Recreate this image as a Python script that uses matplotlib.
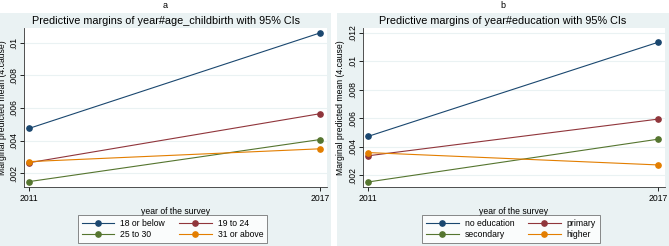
import matplotlib
matplotlib.use("Agg")
import matplotlib.pyplot as plt
from matplotlib.patches import Rectangle
from matplotlib.ticker import FuncFormatter

plt.rcParams["font.family"] = ["Liberation Sans", "DejaVu Sans"]

years = [2011, 2017]

age_labels = ["18 or below", "19 to 24", "25 to 30", "31 or above"]
age_values = [
    [0.00474, 0.01062],
    [0.00263, 0.00565],
    [0.00147, 0.00406],
    [0.00270, 0.00349],
]

edu_labels = ["no education", "primary", "secondary", "higher"]
edu_values = [
    [0.00473, 0.01135],
    [0.00337, 0.00595],
    [0.00153, 0.00454],
    [0.00360, 0.00273],
]

colors = ["#1a476f", "#90353b", "#55752f", "#e37e00"]
bg = "#eaf2f3"

W, H = 669, 246
fig = plt.figure(figsize=(W / 100, H / 100), dpi=100)
fig.patch.set_facecolor("white")

# panel backgrounds
fig.add_artist(Rectangle((0, 0), 331 / W, 1 - 13 / H, transform=fig.transFigure,
                         facecolor=bg, edgecolor="none", zorder=-10))
fig.add_artist(Rectangle((337 / W, 0), (W - 337) / W, 1 - 13 / H, transform=fig.transFigure,
                         facecolor=bg, edgecolor="none", zorder=-10))


def fmt(v, pos):
    s = ("%.3f" % v).rstrip("0")
    if s.startswith("0"):
        s = s[1:]
    return s


def panel(x0, x1, px0, px1, ylab_x, labels, values, title, letter, ylim, yticks):
    ax = fig.add_axes([x0 / W, 1 - 187 / H, (x1 - x0) / W, (187 - 28) / H])
    ax.set_facecolor("white")
    lines = []
    for lab, vals, c in zip(labels, values, colors):
        ln, = ax.plot(years, vals, color=c, lw=0.8, marker="o", ms=3.8, label=lab)
        lines.append(ln)
    ax.set_xlim(2010.9, 2017.14)
    ax.set_ylim(*ylim)
    ax.set_xticks(years)
    ax.set_yticks(yticks)
    ax.yaxis.set_major_formatter(FuncFormatter(fmt))
    ax.tick_params(axis="y", labelrotation=90, labelsize=6.2, length=3, width=0.6, pad=1)
    ax.tick_params(axis="x", labelsize=6.2, length=3, width=0.6, pad=2)
    for lbl in ax.get_yticklabels():
        lbl.set_va("center")
    ax.grid(axis="y", color=bg, lw=0.8)
    ax.set_axisbelow(True)
    for s in ["top", "right"]:
        ax.spines[s].set_visible(False)
    for s in ["left", "bottom"]:
        ax.spines[s].set_linewidth(0.6)
        ax.spines[s].set_color("#333333")
    ax.set_xlabel("year of the survey", fontsize=6.2, labelpad=3)
    ax.set_ylabel("Marginal predicted mean (4.cause)", fontsize=6.2)
    ax.yaxis.set_label_coords((ylab_x - x0) / (x1 - x0), 0.5)
    pcx = (px0 + px1) / 2 / W
    fig.text(pcx, 1 - 21 / H, title, ha="center", va="center", fontsize=7.8)
    fig.text(pcx, 1 - 6 / H, letter, ha="center", va="center", fontsize=6.5)
    order = [0, 2, 1, 3]
    leg = fig.legend(handles=[lines[i] for i in order], labels=[labels[i] for i in order],
                     ncol=2, loc="center",
                     bbox_to_anchor=((x0 + x1) / 2 / W - 3 / W, 1 - 229 / H), fontsize=6.2,
                     frameon=True, fancybox=False, edgecolor="#555555",
                     handlelength=3.8, columnspacing=1.6, borderpad=0.4,
                     labelspacing=0.3, handletextpad=0.7)
    leg.get_frame().set_linewidth(0.6)
    return ax


panel(24, 327, 0, 331, 7.5, age_labels, age_values,
      "Predictive margins of year#age_childbirth with 95% CIs", "a",
      (0.00114, 0.01092), [0.002, 0.004, 0.006, 0.008, 0.01])
panel(363, 665, 337, 669, 345, edu_labels, edu_values,
      "Predictive margins of year#education with 95% CIs", "b",
      (0.00118, 0.01235), [0.002, 0.004, 0.006, 0.008, 0.01, 0.012])

fig.savefig("out.png", dpi=100, facecolor=fig.get_facecolor())
